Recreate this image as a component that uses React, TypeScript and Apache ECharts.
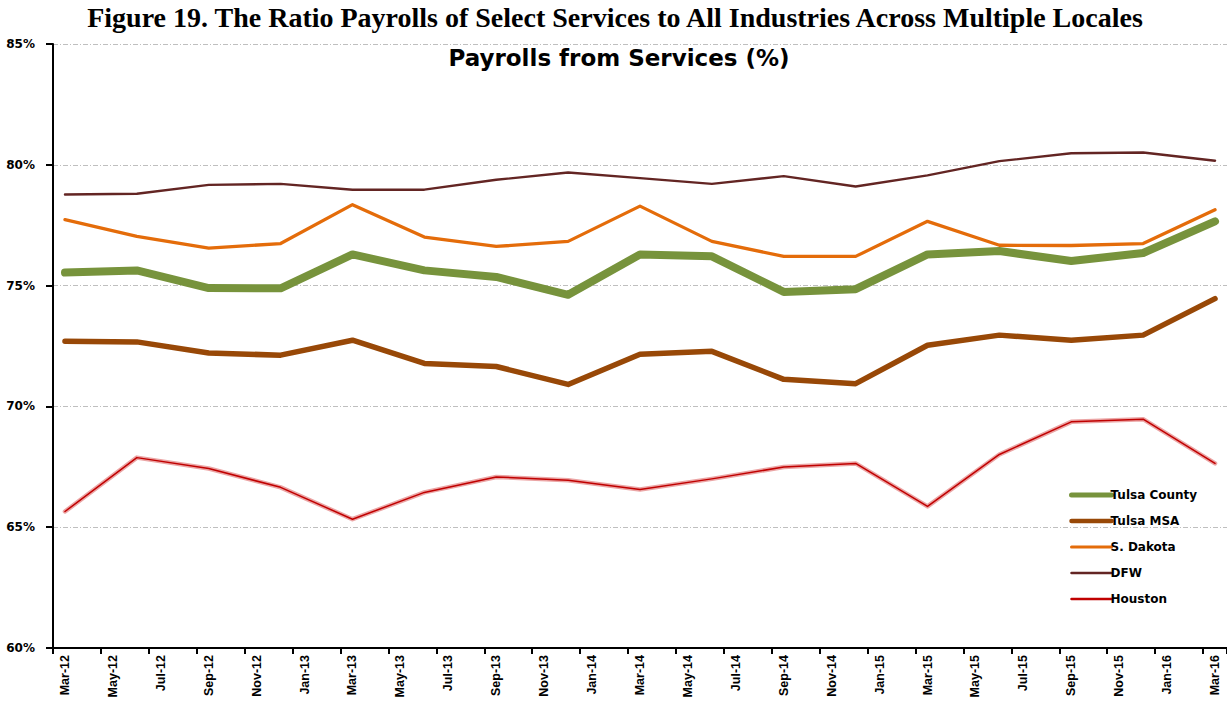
import React, { useEffect, useRef } from "react";
import * as echarts from "echarts";

const MONTHS = [
  "Mar-12", "Apr-12", "May-12", "Jun-12", "Jul-12", "Aug-12", "Sep-12", "Oct-12", "Nov-12", "Dec-12",
  "Jan-13", "Feb-13", "Mar-13", "Apr-13", "May-13", "Jun-13", "Jul-13", "Aug-13", "Sep-13", "Oct-13", "Nov-13", "Dec-13",
  "Jan-14", "Feb-14", "Mar-14", "Apr-14", "May-14", "Jun-14", "Jul-14", "Aug-14", "Sep-14", "Oct-14", "Nov-14", "Dec-14",
  "Jan-15", "Feb-15", "Mar-15", "Apr-15", "May-15", "Jun-15", "Jul-15", "Aug-15", "Sep-15", "Oct-15", "Nov-15", "Dec-15",
  "Jan-16", "Feb-16", "Mar-16",
];

const QUARTERS = [
  "Mar-12", "Jun-12", "Sep-12", "Dec-12", "Mar-13", "Jun-13", "Sep-13", "Dec-13",
  "Mar-14", "Jun-14", "Sep-14", "Dec-14", "Mar-15", "Jun-15", "Sep-15", "Dec-15", "Mar-16",
];

const TULSA_COUNTY = [75.54, 75.63, 74.9, 74.89, 76.29, 75.63, 75.36, 74.62, 76.29, 76.21, 74.74, 74.85, 76.29, 76.43, 76.02, 76.35, 77.66];
const TULSA_MSA = [72.7, 72.67, 72.21, 72.12, 72.74, 71.78, 71.65, 70.91, 72.16, 72.28, 71.12, 70.94, 72.53, 72.95, 72.74, 72.95, 74.46];
const S_DAKOTA = [77.73, 77.04, 76.55, 76.74, 78.35, 77.01, 76.62, 76.83, 78.29, 76.83, 76.21, 76.21, 77.66, 76.67, 76.66, 76.74, 78.14];
const DFW = [78.77, 78.8, 79.17, 79.21, 78.97, 78.97, 79.38, 79.68, 79.45, 79.21, 79.53, 79.1, 79.56, 80.15, 80.48, 80.51, 80.17];
const HOUSTON = [65.65, 67.88, 67.43, 66.65, 65.33, 66.44, 67.08, 66.94, 66.56, 67.0, 67.49, 67.64, 65.86, 68.01, 69.36, 69.47, 67.64];

const pairs = (vals: number[]) => QUARTERS.map((q, i) => [q, vals[i]]);

export default function App() {
  const ref = useRef<HTMLDivElement>(null);
  useEffect(() => {
    if (!ref.current) return;
    const chart = echarts.init(ref.current, null, { renderer: "svg" });
    const line = (name: string, vals: number[], color: string, width: number) => ({
      name,
      type: "line",
      data: pairs(vals),
      symbol: "none",
      showSymbol: false,
      lineStyle: { color, width, cap: "round", join: "round" },
      itemStyle: { color },
    });
    chart.setOption({
      animation: false,
      backgroundColor: "#ffffff",
      title: [
        {
          text: "Figure 19. The Ratio Payrolls of Select Services to All Industries Across Multiple Locales",
          left: 610,
          textAlign: "center",
          top: -2,
          textStyle: { fontFamily: "Liberation Serif", fontWeight: "bold", fontSize: 28, color: "#000" },
        },
        {
          text: "Payrolls from Services (%)",
          left: 614,
          textAlign: "center",
          top: 41,
          textStyle: { fontFamily: "DejaVu Sans", fontWeight: "bold", fontSize: 23, color: "#000" },
        },
      ],
      grid: { left: 53, right: 0, top: 44, bottom: 54, containLabel: false },
      legend: {
        orient: "vertical",
        left: 1064,
        top: 484,
        itemWidth: 40,
        itemHeight: 10,
        itemGap: 14,
        itemStyle: { opacity: 0 },
        data: [
          { name: "Tulsa County", lineStyle: { width: 5 } },
          { name: "Tulsa MSA", lineStyle: { width: 4.5 } },
          { name: "S. Dakota", lineStyle: { width: 3 } },
          { name: "DFW", lineStyle: { width: 2.5 } },
          { name: "Houston", lineStyle: { width: 2.5 } },
        ],
        textStyle: { fontFamily: "DejaVu Sans", fontWeight: "bold", fontSize: 12, color: "#000", padding: [0, 0, 0, -6] },
      },
      xAxis: {
        type: "category",
        data: MONTHS,
        boundaryGap: true,
        axisLine: { lineStyle: { color: "#000", width: 2 } },
        axisTick: { show: true, interval: 1, length: 6, lineStyle: { color: "#000", width: 2 } },
        axisLabel: {
          interval: 1,
          rotate: 90,
          margin: 7,
          fontFamily: "Liberation Sans Narrow, Liberation Sans",
          fontWeight: "bold",
          fontSize: 12.5,
          color: "#000",
        },
        splitLine: { show: false },
      },
      yAxis: {
        type: "value",
        min: 60,
        max: 85,
        interval: 5,
        axisLine: { show: true, lineStyle: { color: "#000", width: 2 } },
        axisTick: { show: true, length: 7, lineStyle: { color: "#000", width: 2 } },
        axisLabel: {
          formatter: "{value}%",
          margin: 18,
          fontFamily: "DejaVu Sans",
          fontWeight: "bold",
          fontSize: 12,
          color: "#000",
        },
        splitLine: { show: true, lineStyle: { color: "#BFBFBF", width: 1, type: [5, 2, 1, 2] } },
      },
      series: [
        line("Tulsa County", TULSA_COUNTY, "#77933C", 8),
        line("Tulsa MSA", TULSA_MSA, "#984807", 5.5),
        line("S. Dakota", S_DAKOTA, "#E46C0A", 3.3),
        line("DFW", DFW, "#632523", 2.4),
        line("Houston outline", HOUSTON, "#EBA5A5", 4.5),
        line("Houston", HOUSTON, "#C00000", 1.5),
      ],
    });
    return () => chart.dispose();
  }, []);
  return (
    <div
      ref={ref}
      style={{ position: "fixed", left: 0, top: 0, width: 1227, height: 702, background: "#fff" }}
    />
  );
}
